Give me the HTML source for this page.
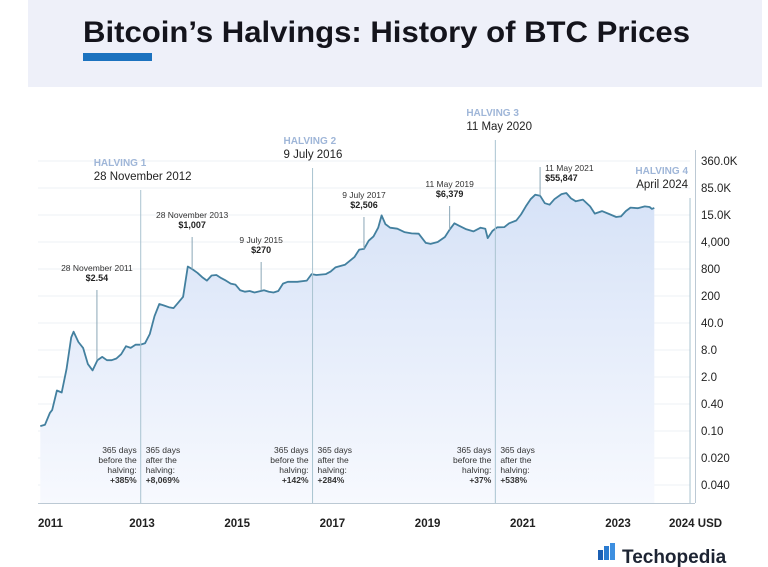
<!DOCTYPE html>
<html><head><meta charset="utf-8"><style>
html,body{margin:0;padding:0;background:#fff;}
svg{display:block;font-family:"Liberation Sans",sans-serif;}
</style></head><body>
<svg id="chart" width="768" height="567" viewBox="0 0 768 567">
<defs><linearGradient id="fillg" x1="0" y1="0" x2="0" y2="1"><stop offset="0" stop-color="#d6e2f7"/><stop offset="1" stop-color="#f7f9fe"/></linearGradient></defs>
<rect x="28" y="0" width="734" height="87" fill="#eef0f9"/>
<text x="83" y="42" font-size="30" font-weight="bold" fill="#14141c" textLength="607" lengthAdjust="spacingAndGlyphs">Bitcoin’s Halvings: History of BTC Prices</text>
<rect x="83" y="53" width="69" height="8" fill="#1b72bf"/>
<g id="grid"></g>
<g id="area"></g>
<g id="halvings"></g>
<g id="annots"></g>
<g id="axes"></g>
<g>
<rect x="598" y="550" width="5" height="10" fill="#1b5fb3"/><rect x="604" y="546" width="5" height="14" fill="#2a7bd0"/><rect x="610" y="543" width="5" height="17" fill="#3d8fe0"/>
<text x="622" y="563" font-size="19" font-weight="bold" fill="#1d2433">Techopedia</text>
</g>
</svg>
<script>
const yTicks=[360000,85000,15000,4000,800,200,40,8,2,0.4,0.1];
const yTickLabels=["360.0K","85.0K","15.0K","4,000","800","200","40.0","8.0","2.0","0.40","0.10","0.020","0.040"];
const xTickYears=[2011,2013,2015,2017,2019,2021,2023,2024];
const xTickLabels=["2011","2013","2015","2017","2019","2021","2023","2024 USD"];
const dates=[2010.8,2010.9,2011.0,2011.05,2011.15,2011.25,2011.35,2011.45,2011.5,2011.6,2011.7,2011.8,2011.9,2012.0,2012.1,2012.2,2012.3,2012.4,2012.5,2012.6,2012.7,2012.8,2012.9,2013.0,2013.1,2013.2,2013.3,2013.4,2013.5,2013.6,2013.7,2013.8,2013.9,2014.0,2014.1,2014.2,2014.3,2014.4,2014.5,2014.6,2014.7,2014.8,2014.9,2015.0,2015.1,2015.2,2015.3,2015.5,2015.6,2015.7,2015.8,2015.9,2016.0,2016.2,2016.4,2016.5,2016.6,2016.8,2016.9,2017.0,2017.2,2017.4,2017.5,2017.6,2017.7,2017.8,2017.9,2017.97,2018.05,2018.15,2018.3,2018.45,2018.6,2018.75,2018.9,2019.0,2019.15,2019.3,2019.4,2019.5,2019.6,2019.75,2019.9,2020.05,2020.15,2020.2,2020.3,2020.4,2020.55,2020.65,2020.8,2020.9,2021.0,2021.1,2021.2,2021.3,2021.4,2021.5,2021.6,2021.75,2021.85,2021.95,2022.05,2022.2,2022.35,2022.45,2022.6,2022.75,2022.9,2023.0,2023.1,2023.2,2023.35,2023.5,2023.6,2023.65,2023.7];
const prices=[0.12,0.13,0.25,0.3,0.9,0.8,3,18,25,14,10,4,2.8,5,6,5,5,5.5,7,11,10,12,12,13,22,60,120,110,100,95,130,180,1000,850,700,550,450,600,620,520,450,380,360,260,240,250,230,260,240,230,250,380,420,420,450,650,620,650,750,950,1100,1700,2600,2700,4300,5500,9000,18000,11000,9000,8500,7000,6500,6400,3800,3600,4000,5300,8000,11500,10000,8200,7300,9000,8500,5000,7500,9200,9300,11500,13500,19000,30000,45000,58000,55000,36000,33000,45000,60000,64000,47000,40000,44000,30000,20000,23000,19500,16500,17000,23000,28000,27000,30000,29000,26000,27500];
const halvingNames=["HALVING 1","HALVING 2","HALVING 3","HALVING 4"];
const halvingDates=["28 November 2012","9 July 2016","11 May 2020","April 2024"];
const halvingYears=[2012.91,2016.52,2020.36,2024.45];
const annotLabels=["28 November 2011","28 November 2013","9 July 2015","9 July 2017","11 May 2019","11 May 2021"];
const annotValues=["$2.54","$1,007","$270","$2,506","$6,379","$55,847"];
const annotYears=[2011.99,2013.99,2015.44,2017.6,2019.4,2021.3];
const changeBefore=["+385%","+142%","+37%"];
const changeAfter=["+8,069%","+284%","+538%"];

const NS="http://www.w3.org/2000/svg";
const X=y=>145+(y-2013)*47.6;
const Y=v=>242-Math.log10(v/4000)*40.7;
function mk(tag,attrs,parent,txt){const e=document.createElementNS(NS,tag);for(const k in attrs)e.setAttribute(k,attrs[k]);if(txt!==undefined)e.textContent=txt;parent.appendChild(e);return e;}
const grid=document.getElementById('grid'),area=document.getElementById('area'),hv=document.getElementById('halvings'),an=document.getElementById('annots'),ax=document.getElementById('axes');
yTickLabels.forEach((l,i)=>{const y=161+i*27;
 const g=mk('line',{x1:38,x2:690,y1:y,y2:y,stroke:'#eef0f4','stroke-width':1},grid);
 
 
 const t=mk('text',{x:701,y:y+4,'font-size':11.5,fill:'#222'},ax,l);
 
 
});
let pts=dates.map((d,i)=>[X(d),Y(prices[i])]);
let dl="M"+pts.map(p=>p[0].toFixed(1)+","+p[1].toFixed(1)).join("L");
const ar=mk('path',{d:dl+`L${pts[pts.length-1][0]},503L${pts[0][0]},503Z`,fill:'url(#fillg)'},area);


const ln=mk('path',{d:dl,fill:'none',stroke:'#43809f','stroke-width':1.8,'stroke-linejoin':'round'},area);


const lblY=[180,158,130,188];
halvingYears.forEach((h,i)=>{const x=X(h);
 const l=mk('line',{x1:x,x2:x,y1:lblY[i]+10,y2:503,stroke:'#a9c3d0','stroke-width':1},hv);
 
 
 const anchor=i==3?'end':'start', tx=i==3?x-2:(i==0?x-47:x-29);
 const t1=mk('text',{x:tx,y:lblY[i]-14,'font-size':10,'font-weight':'bold',fill:'#9fb6d8','text-anchor':anchor},hv,halvingNames[i]);
 
 
 const t2=mk('text',{x:tx,y:lblY[i],'font-size':11.5,fill:'#222','text-anchor':anchor},hv,halvingDates[i]);
 
 
 if(i<3){
  const lb=['365 days','before the','halving:',changeBefore[i]],la=['365 days','after the','halving:',changeAfter[i]];
  lb.forEach((s,k)=>{const t=mk('text',{x:x-4,y:453+k*10,'font-size':8.5,fill:'#333','text-anchor':'end','font-weight':k==3?'bold':'normal'},hv,s);
   
   });
  la.forEach((s,k)=>{const t=mk('text',{x:x+5,y:453+k*10,'font-size':8.5,fill:'#333','font-weight':k==3?'bold':'normal'},hv,s);
   
   });
 }
});
const annTop=[290,237,262,217,206,167];
annotYears.forEach((a,i)=>{const x=X(a);let py=Y(prices[dates.findIndex(d=>d>=a)]);
 const l=mk('line',{x1:x,x2:x,y1:annTop[i],y2:py,stroke:'#8aa6b6','stroke-width':1},an);
 
 
 const last=i==5, tx=last?x+5:x, anc=last?'start':'middle', y0=last?annTop[i]+4:annTop[i]-19;
 const t1=mk('text',{x:tx,y:y0,'font-size':8.5,fill:'#333','text-anchor':anc},an,annotLabels[i]);
 
 
 const t2=mk('text',{x:tx,y:y0+10,'font-size':9,'font-weight':'bold',fill:'#222','text-anchor':anc},an,annotValues[i]);
 
 
});
const a1=mk('line',{x1:38,x2:695,y1:503.5,y2:503.5,stroke:'#bcc9d4','stroke-width':1},ax);


const a2=mk('line',{x1:695.5,x2:695.5,y1:150,y2:503,stroke:'#bcc9d4','stroke-width':1},ax);


xTickYears.forEach((yr,i)=>{const last=i==xTickYears.length-1;
 const t=mk('text',{x:last?669:(i==0?38:X(yr)-3),y:527,'font-size':11.5,'font-weight':'bold',fill:'#222','text-anchor':(last||i==0)?'start':'middle'},ax,xTickLabels[i]);
 
 
});
</script>
</body></html>
